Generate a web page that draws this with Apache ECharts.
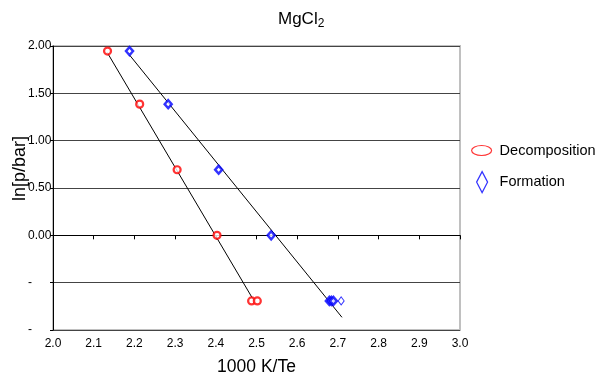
<!DOCTYPE html>
<html>
<head>
<meta charset="utf-8">
<script src="https://cdn.jsdelivr.net/npm/echarts@6/dist/echarts.min.js"></script>
<style>
html,body{margin:0;padding:0;background:#fff;}
#chart{width:597px;height:376px;}
</style>
</head>
<body>
<div id="chart"></div>
<script>
// Data
var decompX = [2.134, 2.213, 2.305, 2.403, 2.488, 2.502];
var decompY = [1.946, 1.386, 0.693, 0.000, -0.693, -0.693];
var formX = [2.188, 2.283, 2.407, 2.536, 2.679, 2.684, 2.689, 2.708];
var formY = [1.946, 1.386, 0.693, 0.000, -0.693, -0.693, -0.693, -0.693];
var decompFitX = [2.133, 2.494];
var decompFitY = [1.933, -0.693];
var formFitX = [2.188, 2.710];
var formFitY = [1.905, -0.866];
var xTicks = [2.0, 3.0, 0.1];
var yTicks = [-1.0, 2.0, 0.5];
var titleMain = 'MgCl';
var titleSub = '2';
var seriesNames = ['Decomposition', 'Formation'];

function zip(a, b) { return a.map(function (v, i) { return [v, b[i]]; }); }

var FONT = '"Liberation Sans", Arial, sans-serif';
var RED = '#ff0000', BLUE = '#0000ff';

var formData = zip(formX, formY).map(function (p, i) {
  var d = { value: p };
  if (i === formX.length - 1) {
    d.symbolSize = [6, 8];
    d.itemStyle = { borderWidth: 1 };
  }
  return d;
});

var chart = echarts.init(document.getElementById('chart'), null, { renderer: 'canvas' });
chart.setOption({
  animation: false,
  backgroundColor: '#fff',
  title: {
    text: '{a|' + titleMain + '}{b|' + titleSub + '}',
    left: 278, top: 9, padding: 0,
    textStyle: {
      fontWeight: 'normal',
      rich: {
        a: { fontFamily: FONT, fontSize: 17, color: '#000', fontWeight: 'normal' },
        b: { fontFamily: FONT, fontSize: 12, color: '#000', fontWeight: 'normal', verticalAlign: 'bottom', padding: [9, 0, 0, 0] }
      }
    }
  },
  grid: {
    left: 53, right: 137, top: 46, bottom: 46,
    containLabel: false, outerBoundsMode: 'none',
    show: true, borderColor: '#c0c0c0', borderWidth: 2, backgroundColor: 'transparent'
  },
  legend: [
    {
      data: [{ name: seriesNames[0], icon: 'path://M0,50 A100,50 0 1,1 200,50 A100,50 0 1,1 0,50 Z',
        itemStyle: { color: 'rgba(0,0,0,0)', borderColor: RED, borderWidth: 1.2 } }],
      left: 471, top: 143, padding: 0, itemWidth: 20, itemHeight: 13, orient: 'vertical',
      textStyle: { fontFamily: FONT, fontSize: 14.5, color: '#000', padding: [0, 0, 0, 3] },
      selectedMode: false
    },
    {
      data: [{ name: seriesNames[1], icon: 'diamond',
        itemStyle: { color: 'rgba(0,0,0,0)', borderColor: BLUE, borderWidth: 1.2 } }],
      left: 476, top: 171, padding: 0, itemWidth: 11, itemHeight: 21, orient: 'vertical',
      textStyle: { fontFamily: FONT, fontSize: 14.5, color: '#000', padding: [0, 0, 0, 7] },
      selectedMode: false
    }
  ],
  xAxis: {
    type: 'value', min: xTicks[0], max: xTicks[1], interval: xTicks[2],
    name: '1000 K/Te', nameLocation: 'middle', nameGap: 28,
    nameTextStyle: { fontFamily: FONT, fontSize: 17.5, color: '#000' },
    axisLine: { lineStyle: { color: '#000', width: 1 } },
    axisTick: { show: true, length: 4, lineStyle: { color: '#000' } },
    axisLabel: { fontFamily: FONT, fontSize: 12, color: '#000', margin: 8,
      formatter: function (v) { return v.toFixed(1); } },
    splitLine: { show: false }
  },
  yAxis: {
    type: 'value', min: yTicks[0], max: yTicks[1], interval: yTicks[2],
    axisLine: { show: true, lineStyle: { color: '#000', width: 1 } },
    axisTick: { show: true, length: 3, lineStyle: { color: '#000' } },
    axisLabel: { fontFamily: FONT, fontSize: 12, color: '#000', align: 'left', margin: 25,
      formatter: function (v) { return v >= 0 ? v.toFixed(2) : '-'; } },
    splitLine: { show: true, lineStyle: { color: '#444', width: 1 } }
  },
  graphic: [{
    type: 'text', left: 11, top: 136, rotation: Math.PI / 2,
    style: { text: 'ln[p/bar]', font: '18px ' + FONT, fill: '#000' }
  }],
  series: [
    {
      name: seriesNames[0], type: 'scatter', data: zip(decompX, decompY),
      symbol: 'circle', symbolSize: 7, z: 5,
      itemStyle: { color: '#fff', borderColor: RED, borderWidth: 2.2 }
    },
    {
      name: seriesNames[1], type: 'scatter', data: formData,
      symbol: 'diamond', symbolSize: [7, 8], z: 5,
      itemStyle: { color: '#fff', borderColor: BLUE, borderWidth: 2.5 }
    },
    {
      name: 'fitDecomp', type: 'line', data: zip(decompFitX, decompFitY),
      showSymbol: false, symbol: 'none', silent: true, z: 4,
      lineStyle: { color: '#000', width: 1 }
    },
    {
      name: 'fitForm', type: 'line', data: zip(formFitX, formFitY),
      showSymbol: false, symbol: 'none', silent: true, z: 4,
      lineStyle: { color: '#000', width: 1 }
    }
  ]
});
</script>
</body>
</html>
